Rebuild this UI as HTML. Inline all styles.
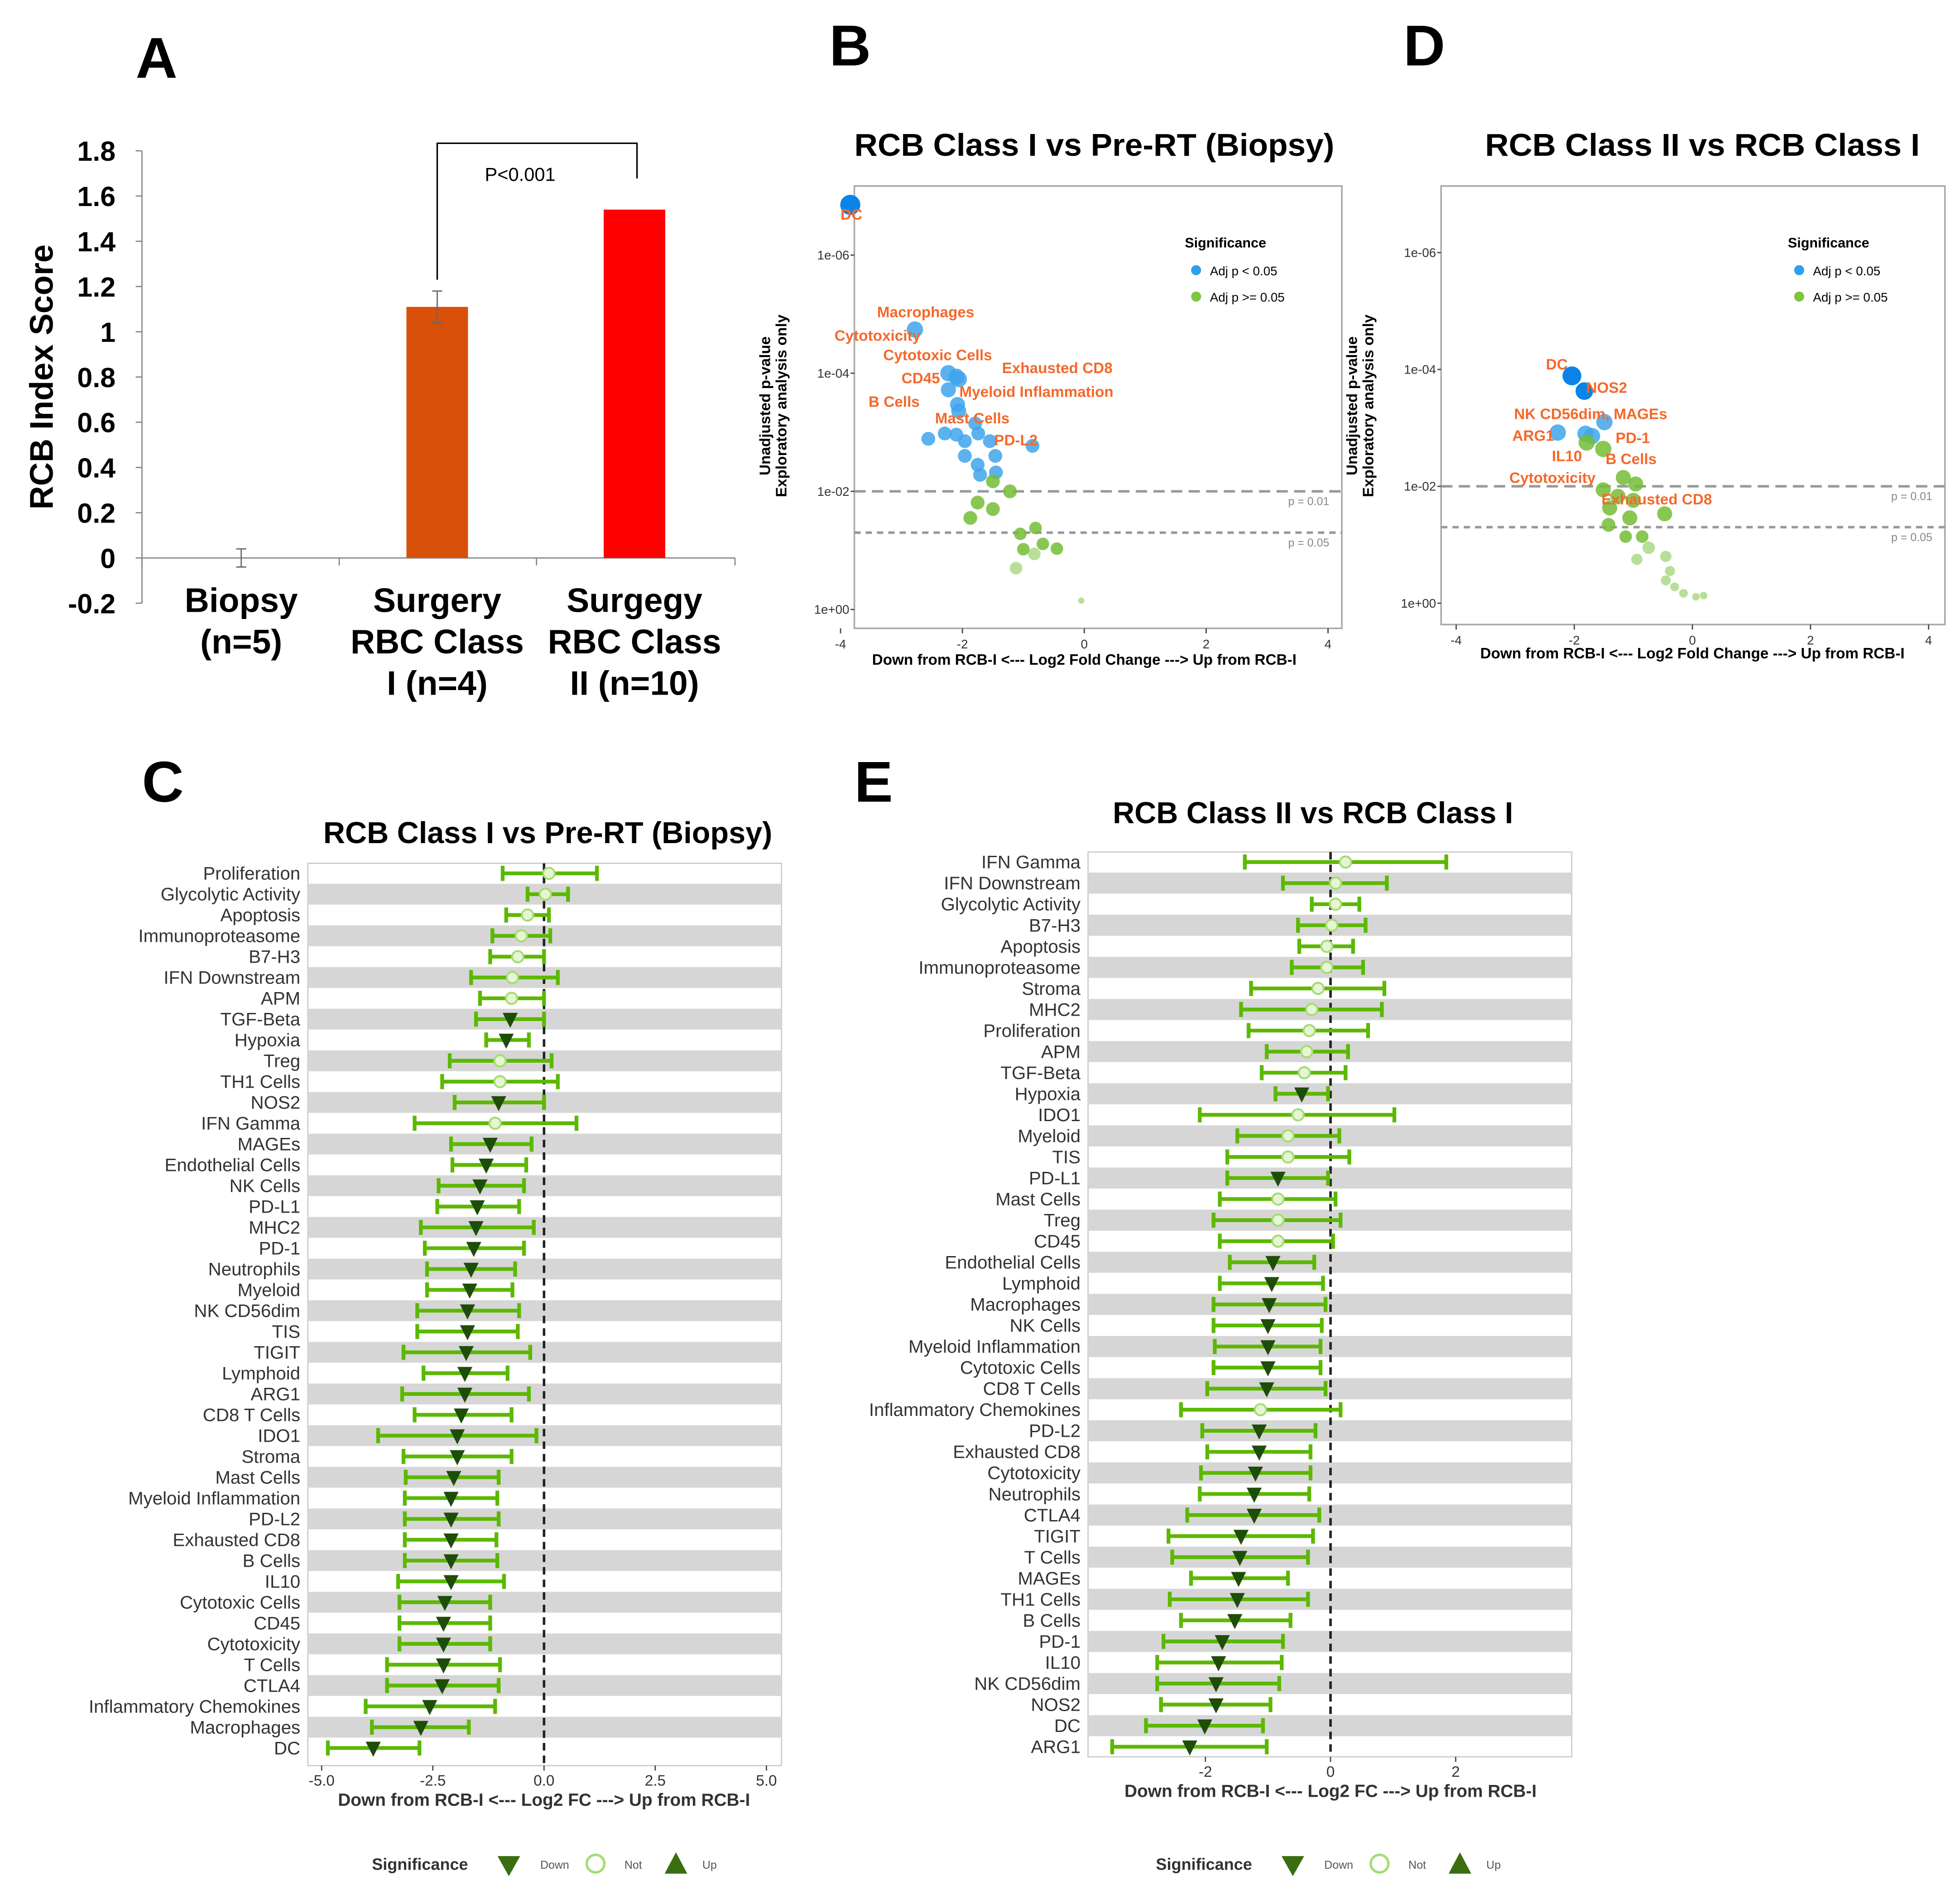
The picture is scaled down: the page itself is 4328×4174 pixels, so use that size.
<!DOCTYPE html>
<html><head><meta charset="utf-8"><style>
html,body{margin:0;padding:0;background:#fff;}
svg{display:block;}
text{font-family:"Liberation Sans",sans-serif;}
</style></head><body>
<svg id="fig" xmlns="http://www.w3.org/2000/svg" width="4328" height="4174" viewBox="0 0 1560 1504" preserveAspectRatio="none">
<rect x="0" y="0" width="1560" height="1504" fill="#fff"/>
<g id="gA"></g>
<g id="gB"></g>
<g id="gD"></g>
<g id="gC"></g>
<g id="gE"></g>
</svg>
<script>
// ---------- Panel A data ----------
const aCats = [["Biopsy","(n=5)"],["Surgery","RBC Class","I (n=4)"],["Surgegy","RBC Class","II (n=10)"]];
const aVals = [0, 1.11, 1.54];
const aErr = [0.04, 0.07, 0];
const aTicks = [-0.2,0,0.2,0.4,0.6,0.8,1,1.2,1.4,1.6,1.8];
const aColors = ["#d9500a","#d9500a","#ff0000"];

// ---------- Panel B data ----------
const bX = [-3.84,-2.78,-2.23,-2.10,-2.06,-2.23,-2.08,-2.06,-1.79,-2.10,-1.74,-2.56,-2.29,-1.96,-1.55,-0.85,-1.46,-1.96,-1.75,-1.45,-1.71,-1.50,-1.22,-1.75,-1.50,-1.87,-0.80,-1.05,-0.68,-1.00,-0.82,-1.12,-0.45,-0.05];
const bP = [6.85,4.74,4.00,3.94,3.90,3.72,3.47,3.36,3.15,2.96,2.98,2.89,2.98,2.85,2.85,2.77,2.60,2.60,2.45,2.32,2.28,2.17,2.00,1.81,1.70,1.55,1.38,1.28,1.11,1.02,0.94,0.70,1.03,0.15];
const bSig = [1,1,1,1,1,1,1,1,1,1,1,1,1,1,1,1,1,1,1,1,1,0,0,0,0,0,0,0,0,0,0,0,0,0];
const bSize = [8,6.5,6.5,6.5,6.5,6,6,6,5.5,5.5,5.5,5.5,5.5,5.5,5.5,5.5,5.5,5.5,5.5,5.5,5.5,5.5,5.5,5.5,5.5,5.5,5,5,5,5,5,5,5,2.5];
const bLabels = ["DC","Macrophages","Cytotoxicity","Cytotoxic Cells","CD45","Exhausted CD8","Myeloid Inflammation","B Cells","Mast Cells","PD-L2"];
const bLabX = [-4.0,-3.4,-4.1,-3.3,-3.0,-1.35,-2.05,-3.54,-2.45,-1.48];
const bLabP = [6.6,4.95,4.55,4.22,3.83,4.0,3.6,3.43,3.15,2.78];

// ---------- Panel D data ----------
const dX = [-2.04,-1.83,-1.49,-2.28,-1.81,-1.70,-1.79,-1.51,-1.17,-0.96,-1.51,-1.26,-1.00,-1.40,-1.06,-0.47,-1.42,-1.13,-0.85,-0.74,-0.94,-0.45,-0.38,-0.45,-0.30,-0.15,0.06,0.19];
const dP = [3.89,3.63,3.10,2.92,2.90,2.86,2.75,2.64,2.15,2.04,1.94,1.83,1.76,1.63,1.46,1.53,1.34,1.14,1.14,0.95,0.75,0.80,0.55,0.39,0.28,0.17,0.11,0.13];
const dSig = [1,1,1,1,1,1,0,0,0,0,0,0,0,0,0,0,0,0,0,0,0,0,0,0,0,0,0,0];
const dSize = [7.5,7,6.5,6.5,6.5,6.5,6.5,6.5,6,6,6,6,6,6,6,6,5.5,5,5,5,4.5,4.5,4,4,3.5,3.5,3,3];
const dLabels = ["DC","NOS2","NK CD56dim, MAGEs","ARG1","PD-1","IL10","B Cells","Cytotoxicity","Exhausted CD8"];
const dLabX = [-2.48,-1.80,-3.02,-3.05,-1.30,-2.38,-1.47,-3.10,-1.54];
const dLabP = [4.0,3.60,3.15,2.78,2.74,2.43,2.38,2.06,1.69];

// ---------- Panel C data ----------
const cNames = ["Proliferation","Glycolytic Activity","Apoptosis","Immunoproteasome","B7-H3","IFN Downstream","APM","TGF-Beta","Hypoxia","Treg","TH1 Cells","NOS2","IFN Gamma","MAGEs","Endothelial Cells","NK Cells","PD-L1","MHC2","PD-1","Neutrophils","Myeloid","NK CD56dim","TIS","TIGIT","Lymphoid","ARG1","CD8 T Cells","IDO1","Stroma","Mast Cells","Myeloid Inflammation","PD-L2","Exhausted CD8","B Cells","IL10","Cytotoxic Cells","CD45","Cytotoxicity","T Cells","CTLA4","Inflammatory Chemokines","Macrophages","DC"];
const cMean = [0.11,0.03,-0.37,-0.51,-0.59,-0.71,-0.73,-0.76,-0.85,-0.99,-0.99,-1.02,-1.10,-1.21,-1.30,-1.44,-1.50,-1.53,-1.58,-1.64,-1.67,-1.72,-1.72,-1.75,-1.78,-1.78,-1.86,-1.95,-1.95,-2.03,-2.09,-2.09,-2.09,-2.09,-2.09,-2.23,-2.26,-2.26,-2.26,-2.29,-2.57,-2.77,-3.84];
const cLo = [-0.93,-0.37,-0.85,-1.16,-1.21,-1.64,-1.44,-1.53,-1.30,-2.12,-2.29,-2.01,-2.91,-2.09,-2.06,-2.37,-2.40,-2.77,-2.68,-2.63,-2.63,-2.85,-2.85,-3.16,-2.71,-3.19,-2.91,-3.73,-3.16,-3.11,-3.13,-3.13,-3.13,-3.13,-3.28,-3.25,-3.25,-3.25,-3.53,-3.53,-4.01,-3.87,-4.86];
const cHi = [1.19,0.54,0.11,0.14,0,0.31,0,0,-0.34,0.17,0.31,0,0.73,-0.28,-0.40,-0.45,-0.56,-0.23,-0.45,-0.65,-0.71,-0.56,-0.59,-0.31,-0.82,-0.34,-0.73,-0.17,-0.73,-1.02,-1.05,-1.02,-1.07,-1.05,-0.90,-1.21,-1.21,-1.21,-0.99,-1.02,-1.10,-1.69,-2.80];
const cDown = [0,0,0,0,0,0,0,1,1,0,0,1,0,1,1,1,1,1,1,1,1,1,1,1,1,1,1,1,1,1,1,1,1,1,1,1,1,1,1,1,1,1,1];
const cTicks = [-5,-2.5,0,2.5,5];
const cTickLabels = ["-5.0","-2.5","0.0","2.5","5.0"];

// ---------- Panel E data ----------
const eNames = ["IFN Gamma","IFN Downstream","Glycolytic Activity","B7-H3","Apoptosis","Immunoproteasome","Stroma","MHC2","Proliferation","APM","TGF-Beta","Hypoxia","IDO1","Myeloid","TIS","PD-L1","Mast Cells","Treg","CD45","Endothelial Cells","Lymphoid","Macrophages","NK Cells","Myeloid Inflammation","Cytotoxic Cells","CD8 T Cells","Inflammatory Chemokines","PD-L2","Exhausted CD8","Cytotoxicity","Neutrophils","CTLA4","TIGIT","T Cells","MAGEs","TH1 Cells","B Cells","PD-1","IL10","NK CD56dim","NOS2","DC","ARG1"];
const eMean = [0.24,0.08,0.08,0.02,-0.06,-0.06,-0.20,-0.30,-0.34,-0.38,-0.42,-0.46,-0.52,-0.68,-0.68,-0.84,-0.84,-0.84,-0.84,-0.92,-0.94,-0.98,-1.00,-1.00,-1.00,-1.02,-1.12,-1.14,-1.14,-1.20,-1.22,-1.22,-1.43,-1.45,-1.47,-1.49,-1.53,-1.73,-1.79,-1.83,-1.83,-2.01,-2.25];
const eLo = [-1.37,-0.76,-0.30,-0.52,-0.50,-0.62,-1.27,-1.43,-1.31,-1.02,-1.10,-0.88,-2.09,-1.49,-1.65,-1.65,-1.77,-1.87,-1.77,-1.61,-1.77,-1.87,-1.87,-1.85,-1.87,-1.97,-2.39,-2.05,-1.97,-2.07,-2.09,-2.29,-2.59,-2.53,-2.23,-2.57,-2.39,-2.67,-2.77,-2.77,-2.71,-2.95,-3.49];
const eHi = [1.85,0.90,0.46,0.56,0.36,0.52,0.86,0.82,0.60,0.28,0.24,-0.04,1.02,0.14,0.30,-0.04,0.08,0.16,0.04,-0.26,-0.12,-0.08,-0.14,-0.16,-0.16,-0.08,0.16,-0.24,-0.32,-0.32,-0.34,-0.18,-0.28,-0.36,-0.68,-0.36,-0.64,-0.76,-0.78,-0.82,-0.96,-1.08,-1.02];
const eDown = [0,0,0,0,0,0,0,0,0,0,0,1,0,0,0,1,0,0,0,1,1,1,1,1,1,1,0,1,1,1,1,1,1,1,1,1,1,1,1,1,1,1,1];
const eTicks = [-2,0,2];
const eTickLabels = ["-2","0","2"];

const NS="http://www.w3.org/2000/svg";
function mk(parent, tag, attrs, txt){
  const e=document.createElementNS(NS,tag);
  for(const k in attrs) e.setAttribute(k,attrs[k]);
  if(txt!==undefined) e.textContent=txt;
  parent.appendChild(e); return e;
}

// ===== Panel A =====
(function(){
  const g=document.getElementById('gA');
  const y=v=>444-v*180;
  const t=mk(g,'text',{x:108,y:62,'font-size':46,'font-weight':'bold'},'A');
  
  
  const ax=mk(g,'line',{x1:113,y1:y(1.8),x2:113,y2:y(-0.2),stroke:'#888','stroke-width':1});
  
  
  const xa=mk(g,'line',{x1:113,y1:y(0),x2:585,y2:y(0),stroke:'#888','stroke-width':1});
  
  
  aTicks.forEach(v=>{
    mk(g,'line',{x1:108,y1:y(v),x2:113,y2:y(v),stroke:'#888'});
    const tl=mk(g,'text',{x:92,y:y(v)+8,'font-size':22,'font-weight':'bold','text-anchor':'end'},String(v));
    
    
  });
  [113,270,427,585].forEach(x=>mk(g,'line',{x1:x,y1:y(0),x2:x,y2:y(0)+6,stroke:'#888'}));
  const yl=mk(g,'text',{x:0,y:0,'font-size':26,'font-weight':'bold','text-anchor':'middle',transform:'translate(42,300) rotate(-90)'},'RCB Index Score');
  
  
  const cx=[192,348,505];
  aVals.forEach((v,i)=>{
    if(v>0){
      const b=mk(g,'rect',{x:cx[i]-24.5,y:y(v),width:49,height:y(0)-y(v),fill:aColors[i]});
      
      
    }
    if(aErr[i]>0){
      const e=mk(g,'path',{d:`M${cx[i]-4},${y(v+aErr[i])}H${cx[i]+4}M${cx[i]},${y(v+aErr[i])}V${y(v-aErr[i])}M${cx[i]-4},${y(v-aErr[i])}H${cx[i]+4}`,stroke:'#666',fill:'none','stroke-width':1});
      
      
    }
    aCats[i].forEach((s,j)=>{
      const c=mk(g,'text',{x:cx[i],y:487+j*33,'font-size':27,'font-weight':'bold','text-anchor':'middle'},s);
      
      
    });
  });
  const br=mk(g,'path',{d:`M348,${y(aVals[1]+0.12)}V114H507V142`,stroke:'#000',fill:'none','stroke-width':1.2});
  
  
  const p=mk(g,'text',{x:414,y:144,'font-size':15,'text-anchor':'middle'},'P<0.001');
  
  
})();

// ===== Volcano =====
function volcano(g,o){
  const X=v=>o.x0+v*o.xs, Y=v=>o.y0-v*o.ys;
  const L=mk(g,'text',{x:o.letX,y:52,'font-size':46,'font-weight':'bold'},o.letter);
  
  
  const T=mk(g,'text',{x:o.titleX,y:124,'font-size':25,'font-weight':'bold','text-anchor':'middle','textLength':o.tlen,'lengthAdjust':'spacingAndGlyphs'},o.title);
  
  
  const box=mk(g,'rect',{x:o.bx,y:148,width:o.bw,height:o.bh,fill:'#fff',stroke:'#aaa','stroke-width':1.3});
  
  
  [-4,-2,0,2,4].forEach(v=>{
    mk(g,'line',{x1:X(v),y1:148+o.bh,x2:X(v),y2:152+o.bh,stroke:'#444'});
    const tl=mk(g,'text',{x:X(v),y:164+o.bh,'font-size':10,'text-anchor':'middle',fill:'#333'},String(v));
    
    
  });
  [[6,'1e-06'],[4,'1e-04'],[2,'1e-02'],[0,'1e+00']].forEach(([v,s])=>{
    mk(g,'line',{x1:o.bx-3,y1:Y(v),x2:o.bx,y2:Y(v),stroke:'#444'});
    const tl=mk(g,'text',{x:o.bx-4,y:Y(v)+3.5,'font-size':10,'text-anchor':'end',fill:'#333'},s);
    
    
  });
  mk(g,'line',{x1:o.bx,y1:Y(2),x2:o.bx+o.bw,y2:Y(2),stroke:'#999','stroke-width':2,'stroke-dasharray':'9,5'});
  mk(g,'line',{x1:o.bx,y1:Y(1.301),x2:o.bx+o.bw,y2:Y(1.301),stroke:'#999','stroke-width':2,'stroke-dasharray':'5,4'});
  mk(g,'text',{x:o.bx+o.bw-10,y:Y(2)+11,'font-size':9,'text-anchor':'end',fill:'#888'},'p = 0.01');
  mk(g,'text',{x:o.bx+o.bw-10,y:Y(1.301)+11,'font-size':9,'text-anchor':'end',fill:'#888'},'p = 0.05');
  const yl=mk(g,'text',{x:0,y:0,'font-size':12,'font-weight':'bold','text-anchor':'middle',transform:`translate(${o.bx-67},323) rotate(-90)`});
  mk(yl,'tspan',{x:0,dy:0},'Unadjusted p-value');
  mk(yl,'tspan',{x:0,dy:13},'Exploratory analysis only');
  
  
  const xl=mk(g,'text',{x:o.xlx,y:o.xly,'font-size':12,'font-weight':'bold','text-anchor':'middle'},'Down from RCB-I <--- Log2 Fold Change ---> Up from RCB-I');
  
  
  const lg=o.bx+o.bw-125;
  mk(g,'text',{x:lg,y:197,'font-size':11,'font-weight':'bold'},'Significance');
  const l1=mk(g,'circle',{cx:lg+9,cy:215,r:4,fill:'#2fa0ee'});
  
  
  mk(g,'text',{x:lg+20,y:219,'font-size':10},'Adj p < 0.05');
  const l2=mk(g,'circle',{cx:lg+9,cy:236,r:4,fill:'#7ec540'});
  
  
  mk(g,'text',{x:lg+20,y:240,'font-size':10},'Adj p >= 0.05');
  o.xs_.forEach((v,i)=>{
    const big=o.size[i]>=7;
    const c=mk(g,'circle',{cx:X(v),cy:Y(o.p[i]),r:o.size[i],fill:o.sig[i]?(big?'#0a84e8':'#3fa5ec'):'#74bd36','fill-opacity':o.sig[i]?(big?1:0.85):(o.p[i]>1?0.85:0.5)});
    
    
  });
  o.labs.forEach((s,i)=>{
    const t=mk(g,'text',{x:X(o.lx[i]),y:Y(o.lp[i]),'font-size':12,'font-weight':'bold',fill:'#f5682a'},s);
    
    
  });
}
volcano(document.getElementById('gB'),{letter:'B',letX:660,title:'RCB Class I  vs Pre-RT (Biopsy)',titleX:871,tlen:382,bx:680,bw:388,bh:352,x0:863,xs:48.5,y0:485,ys:47,xlx:863,xly:529,xs_:bX,p:bP,sig:bSig,size:bSize,labs:bLabels,lx:bLabX,lp:bLabP});
volcano(document.getElementById('gD'),{letter:'D',letX:1117,title:'RCB Class II  vs RCB Class I',titleX:1355,tlen:346,bx:1147,bw:401,bh:349,x0:1347,xs:47,y0:480,ys:46.5,xlx:1347,xly:524,xs_:dX,p:dP,sig:dSig,size:dSize,labs:dLabels,lx:dLabX,lp:dLabP});

// ===== Forest =====
function forest(g,o){
  const X=v=>o.x0+v*o.xs;
  const n=o.names.length, sp=(o.rEnd-o.rStart)/(n-1), R=i=>o.rStart+i*sp;
  const L=mk(g,'text',{x:o.letX,y:638,'font-size':46,'font-weight':'bold'},o.letter);
  
  
  const T=mk(g,'text',{x:o.titleX,y:o.titleY,'font-size':24,'font-weight':'bold','text-anchor':'middle'},o.title);
  
  
  mk(g,'rect',{x:o.bx,y:o.by,width:o.bw,height:o.bh,fill:'#fff',stroke:'#ccc'});
  o.names.forEach((s,i)=>{
    if(i%2===1){
      const b=mk(g,'rect',{x:o.bx,y:R(i)-sp/2,width:o.bw,height:sp,fill:'#d6d6d6'});
      
      
    }
    const t=mk(g,'text',{x:o.bx-6,y:R(i)+5,'font-size':14.5,'text-anchor':'end',fill:'#333'},s);
    
    
  });
  const z=mk(g,'line',{x1:X(0),y1:o.by,x2:X(0),y2:o.by+o.bh,stroke:'#222','stroke-width':2,'stroke-dasharray':'6,4'});
  
  
  o.names.forEach((s,i)=>{
    const y=R(i), a=X(o.lo[i]), b=X(o.hi[i]), m=X(o.mean[i]);
    const e=mk(g,'path',{d:`M${a},${y-6}V${y+6}M${a},${y}H${b}M${b},${y-6}V${y+6}`,stroke:'#5cb800','stroke-width':3,fill:'none'});
    
    
    let mkr;
    if(o.down[i]) mkr=mk(g,'path',{d:`M${m-6},${y-5}H${m+6}L${m},${y+7}Z`,fill:'#1e4d0a'});
    else mkr=mk(g,'circle',{cx:m,cy:y,r:4.5,fill:'#e6f5d5',stroke:'#a6dc74','stroke-width':1.5});
    
    
  });
  o.ticks.forEach((v,i)=>{
    mk(g,'line',{x1:X(v),y1:o.by+o.bh,x2:X(v),y2:o.by+o.bh+4,stroke:'#444'});
    const t=mk(g,'text',{x:X(v),y:o.by+o.bh+16,'font-size':12,'text-anchor':'middle',fill:'#333'},o.tl[i]);
    
    
  });
  const xl=mk(g,'text',{x:o.xlx,y:o.by+o.bh+32,'font-size':14,'font-weight':'bold','text-anchor':'middle',fill:'#333'},'Down from RCB-I <--- Log2 FC ---> Up from RCB-I');
  
  
  const ly=1483, lx=o.legX;
  mk(g,'text',{x:lx,y:ly+5,'font-size':13,'font-weight':'bold',fill:'#333'},'Significance');
  const d=mk(g,'path',{d:`M${lx+100},${ly-6}H${lx+118}L${lx+109},${ly+10}Z`,fill:'#3a6e10'});
  
  
  mk(g,'text',{x:lx+134,y:ly+4,'font-size':9,fill:'#555'},'Down');
  const c=mk(g,'circle',{cx:lx+178,cy:ly,r:7,fill:'none',stroke:'#a6dc74','stroke-width':2});
  
  
  mk(g,'text',{x:lx+201,y:ly+4,'font-size':9,fill:'#555'},'Not');
  const u=mk(g,'path',{d:`M${lx+233},${ly+8}H${lx+251}L${lx+242},${ly-9}Z`,fill:'#3a6e10'});
  
  
  mk(g,'text',{x:lx+263,y:ly+4,'font-size':9,fill:'#555'},'Up');
}
forest(document.getElementById('gC'),{letter:'C',letX:113,title:'RCB Class I  vs Pre-RT (Biopsy)',titleX:436,titleY:671,bx:245,by:687,bw:377,bh:718,x0:433,xs:35.4,rStart:695,rEnd:1391,names:cNames,mean:cMean,lo:cLo,hi:cHi,down:cDown,ticks:cTicks,tl:cTickLabels,xlx:433,legX:296});
forest(document.getElementById('gE'),{letter:'E',letX:680,title:'RCB Class II  vs RCB Class I',titleX:1045,titleY:655,bx:866,by:678,bw:385,bh:720,x0:1059,xs:49.8,rStart:686,rEnd:1390,names:eNames,mean:eMean,lo:eLo,hi:eHi,down:eDown,ticks:eTicks,tl:eTickLabels,xlx:1059,legX:920});
</script>
</body></html>
